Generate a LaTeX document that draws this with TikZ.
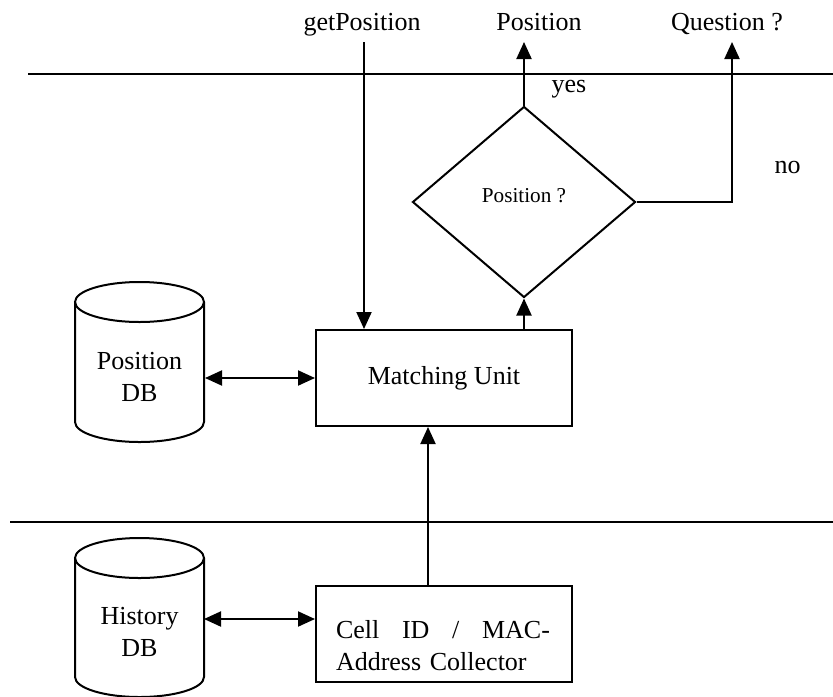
\documentclass[tikz,border=0pt]{standalone}
\usepackage{fontspec}
\setmainfont{Liberation Serif}
\usetikzlibrary{arrows.meta,shapes.geometric}

\begin{document}
\begin{tikzpicture}[x=0.5pt, y=-0.5pt, line width=1pt,
    >={Triangle[length=8.5pt,width=7.5pt]},
    every node/.style={font=\fontsize{13}{16}\selectfont},
    unitbox/.style={draw, minimum width=128pt, minimum height=48pt, inner sep=0pt},
    dbtext/.style={align=center, minimum width=64.5pt, inner sep=0pt},
    decision/.style={draw, diamond, minimum width=111.5pt, minimum height=95.5pt,
        inner sep=0pt, font=\fontsize{10.6}{12}\selectfont, text depth=7pt}]
    \useasboundingbox (0,0) rectangle (833,696);

    % layer separators
    \draw (28,74) -- (833,74);
    \draw (10,522) -- (833,522);

    % databases
    \draw (75,302) -- (75,422) arc[start angle=180, end angle=0, x radius=64.5, y radius=20] -- (204,302);
    \draw (139.5,302) ellipse [x radius=64.5, y radius=20];
    \node[dbtext] (posdb) at (139.5,377) {Position\\DB};

    \draw (75,558) -- (75,677) arc[start angle=180, end angle=0, x radius=64.5, y radius=20] -- (204,558);
    \draw (139.5,558) ellipse [x radius=64.5, y radius=20];
    \node[dbtext] (hisdb) at (139.5,632) {History\\DB};

    % units
    \node[unitbox] (match) at (444,378) {Matching Unit};
    \node[unitbox, text width=108pt, align=left] (cellid) at (444,634)
        {\rule{0pt}{21pt}\makebox[107pt]{Cell\hfill ID\hfill /\hfill MAC-}\\Address Collector};

    % decision
    \node[decision] (decide) at (524,202) {Position ?};

    % labels
    \node[anchor=base] (getlbl) at (362,30) {getPosition};
    \node[anchor=base] (poslbl) at (539,30) {Position};
    \node[anchor=base] (qlbl) at (727,30) {Question ?};
    \node[anchor=base west] (yeslbl) at (544,92) {yes};
    \node[anchor=base west] (nolbl) at (767,173) {no};

    % connectors
    \coordinate (getin) at (364,42);
    \coordinate (posout) at (524,42);
    \coordinate (qout) at (732,42);
    \draw[->] (getin) -- (getin |- match.north);
    \draw[->] (decide.south |- match.north) -- (decide.south);
    \draw[->] (decide.north) -- (posout);
    \draw[->] (decide.east) -| (qout);
    \draw[->] ([xshift=-8pt]cellid.north) -- ([xshift=-8pt]match.south);
    \draw[<->] (posdb.east |- match.west) -- (match.west);
    \coordinate (hislink) at (204,619);
    \draw[<->] (hislink) -- (hislink -| cellid.west);
\end{tikzpicture}
\end{document}
